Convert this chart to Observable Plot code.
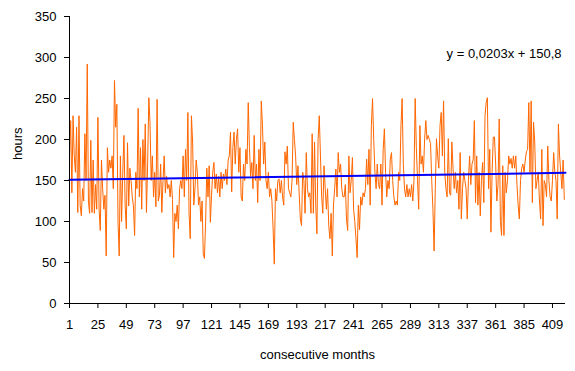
<!DOCTYPE html>
<html>
<head>
<meta charset="utf-8">
<script src="https://cdn.jsdelivr.net/npm/d3@7"></script>
<script src="https://cdn.jsdelivr.net/npm/@observablehq/plot@0.6"></script>
<style>
  html, body { margin: 0; padding: 0; background: #fff; }
</style>
</head>
<body>
<div id="chart"></div>
<script>
// Monthly hours (months 1..419)
const hours = [
  180,223,135,229,180,160,215,111,229,120,107,140,125,207,150,292,124,110,199,111,
  175,110,145,115,227,115,89,175,140,115,132,58,190,160,175,165,180,
  140,272,215,243,99,58,180,100,160,205,120,91,196,119,165,150,130,119,83,160,
  140,238,130,190,115,200,150,219,111,170,251,221,150,180,130,160,118,249,125,
  132,170,111,150,180,135,155,140,145,130,150,127,56,110,100,120,91,140,150,140,
  180,130,188,150,233,110,79,229,197,120,140,175,160,120,130,100,125,60,55,
  100,165,130,168,99,132,160,172,140,158,135,155,130,160,140,158,150,164,145,175,
  180,209,136,190,209,170,200,213,160,190,130,125,170,150,188,170,245,190,155,
  172,140,205,150,170,123,188,150,247,217,170,197,150,140,160,130,140,125,91,48,
  140,125,150,152,135,150,130,120,185,170,192,140,135,130,150,221,200,180,145,
  168,135,103,95,160,150,110,184,140,130,135,110,207,110,197,120,85,200,229,180,
  130,110,168,140,115,140,95,79,110,58,120,140,164,130,184,160,170,140,130,
  130,145,103,89,180,135,150,178,115,100,79,56,120,90,130,120,135,130,140,176,
  145,188,120,217,250,200,160,140,170,145,140,170,120,188,213,160,130,150,140,
  176,184,150,130,120,125,120,160,150,217,250,170,140,130,145,130,140,130,145,125,
  150,250,190,150,115,217,170,180,160,201,223,200,205,200,195,150,115,64,140,
  201,180,165,217,233,180,247,160,140,130,201,135,132,197,165,140,160,135,150,115,
  184,103,140,160,150,140,103,150,180,145,170,175,223,123,180,120,160,107,150,
  172,123,229,245,251,140,188,87,160,203,203,170,125,145,225,100,83,168,83,160,
  135,150,180,170,177,165,180,165,180,145,120,103,150,165,170,160,175,185,188,
  245,160,247,123,221,197,140,150,160,125,103,188,95,150,145,130,192,150,130,125,
  150,184,160,150,103,219,180,160,140,175,127
];
const months = hours.map((_, i) => i + 1);
const xTicks = [1, 25, 49, 73, 97, 121, 145, 169, 193, 217, 241, 265, 289, 313, 337, 361, 385, 409];
const yTicks = [0, 50, 100, 150, 200, 250, 300, 350];
const trendSlope = 0.0203;
const trendIntercept = 150.8;
const equationText = "y = 0,0203x + 150,8";
const xTitle = "consecutive months";
const yTitle = "hours";

const series = months.map((m, i) => ({month: m, hours: hours[i]}));
const lastMonth = 420;
const trend = [1, lastMonth].map(m => ({month: m, hours: trendSlope * m + trendIntercept}));

const chart = Plot.plot({
  width: 575,
  height: 371,
  marginLeft: 69,
  marginRight: 10,
  marginTop: 16,
  marginBottom: 68,
  style: {fontFamily: "'Liberation Sans', Arial, sans-serif", fontSize: "13px", background: "#fff", color: "#000"},
  x: {domain: [1, lastMonth]},
  y: {domain: [0, 350]},
  marks: [
    Plot.line(series, {x: "month", y: "hours", stroke: "#FF6600", strokeWidth: 1}),
    Plot.line(trend, {x: "month", y: "hours", stroke: "#0000FF", strokeWidth: 2}),
    Plot.ruleX([1], {stroke: "#000"}),
    Plot.ruleY([0], {stroke: "#000"}),
    Plot.axisY({ticks: yTicks, tickSize: 5, tickPadding: 8, label: null, fontSize: 13, tickFormat: d => String(d)}),
    Plot.axisX({ticks: xTicks, tickSize: 5, tickPadding: 11, label: null, fontSize: 13, tickFormat: d => String(d)}),
    Plot.text([yTitle], {frameAnchor: "left", rotate: -90, dx: -52, fontSize: 13}),
    Plot.text([xTitle], {frameAnchor: "bottom", dy: 55, fontSize: 13}),
    Plot.text([equationText], {frameAnchor: "top-right", dx: -4, dy: 32, fontSize: 13})
  ]
});
document.getElementById("chart").appendChild(chart);
</script>
</body>
</html>
